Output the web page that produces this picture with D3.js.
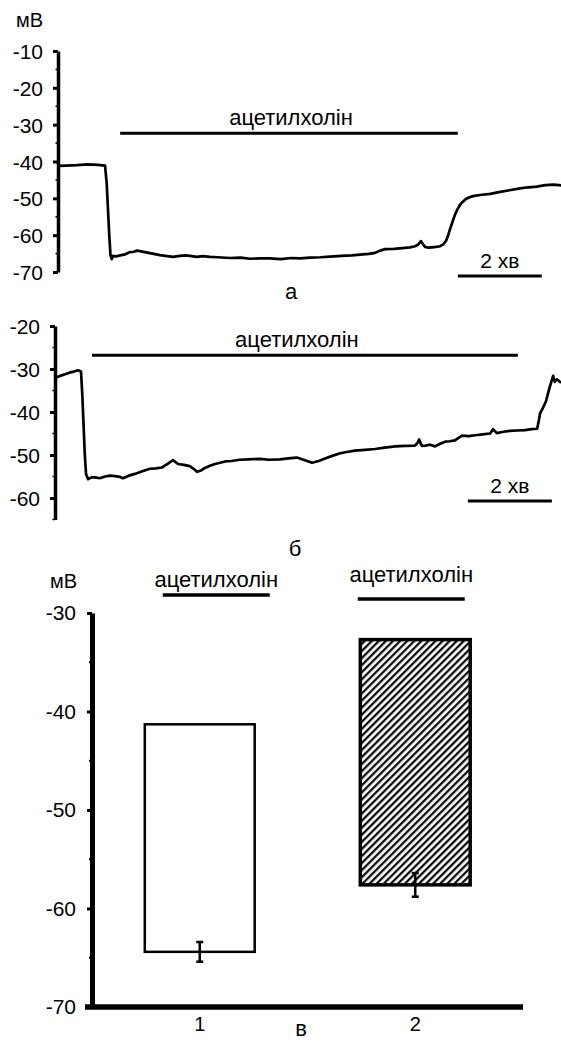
<!DOCTYPE html>
<html>
<head>
<meta charset="utf-8">
<script src="https://cdn.jsdelivr.net/npm/d3@7"></script>
<style>
  html, body { margin: 0; padding: 0; background: #fff; }
  svg { display: block; font-family: "Liberation Sans", Arial, sans-serif; }
</style>
</head>
<body>
<svg id="chart" width="561" height="1041"></svg>
<script>
// ---------------- DATA ----------------
// Panel а: membrane potential trace (time in minutes, potential in mV)
const traceATime = [0, 0.2, 0.45, 0.7, 0.95, 1.12, 1.16, 1.19, 1.22, 1.25, 1.28, 1.31, 1.38, 1.48, 1.6, 1.71, 1.8, 1.88, 1.98, 2.07, 2.25, 2.43, 2.6, 2.74, 2.9, 3.05, 3.14, 3.3, 3.45, 3.62, 3.8, 4.1, 4.35, 4.57, 4.8, 5.05, 5.3, 5.55, 5.76, 6.0, 6.25, 6.48, 6.75, 7.0, 7.19, 7.4, 7.55, 7.67, 7.79, 8.0, 8.2, 8.38, 8.5, 8.57, 8.64, 8.69, 8.74, 8.82, 8.9, 9.0, 9.1, 9.18, 9.24, 9.29, 9.33, 9.39, 9.45, 9.51, 9.57, 9.64, 9.71, 9.8, 9.88, 10.05, 10.29, 10.5, 10.75, 11.0, 11.2, 11.4, 11.6, 11.8, 12.0];
const traceAValue = [-41.2, -41.1, -41.0, -40.8, -40.9, -41.1, -46, -53, -60, -65.5, -66.5, -65.6, -65.8, -65.5, -65.2, -64.6, -64.5, -64.2, -64.4, -64.6, -65.0, -65.4, -65.7, -65.9, -65.6, -65.5, -65.6, -65.9, -65.7, -65.9, -66.0, -66.2, -66.1, -66.4, -66.3, -66.3, -66.5, -66.2, -66.3, -66.1, -66.0, -65.8, -65.6, -65.5, -65.3, -65.1, -64.8, -64.2, -63.8, -63.7, -63.5, -63.3, -63.0, -62.6, -61.6, -62.5, -63.2, -63.4, -63.3, -63.2, -63.0, -62.4, -61.5, -60.0, -58.5, -56.5, -54.5, -53.0, -51.8, -50.9, -50.2, -49.7, -49.4, -49.1, -48.8, -48.3, -47.8, -47.3, -47.0, -46.8, -46.4, -46.3, -46.5];

// Panel б: membrane potential trace
const traceBTime = [0, 0.12, 0.24, 0.36, 0.45, 0.55, 0.62, 0.65, 0.68, 0.71, 0.74, 0.79, 0.87, 0.95, 1.07, 1.19, 1.31, 1.43, 1.55, 1.62, 1.76, 1.9, 2.08, 2.26, 2.4, 2.55, 2.69, 2.81, 2.93, 3.07, 3.21, 3.3, 3.38, 3.48, 3.57, 3.69, 3.81, 4.05, 4.2, 4.4, 4.6, 4.88, 5.1, 5.36, 5.55, 5.76, 5.95, 6.12, 6.28, 6.43, 6.6, 6.79, 6.95, 7.14, 7.38, 7.62, 7.85, 8.1, 8.33, 8.57, 8.63, 8.67, 8.71, 8.74, 8.83, 8.93, 9.05, 9.17, 9.29, 9.4, 9.52, 9.69, 9.85, 10.0, 10.18, 10.36, 10.43, 10.52, 10.68, 10.83, 11.0, 11.19, 11.35, 11.48, 11.52, 11.55, 11.62, 11.69, 11.77, 11.86, 11.9, 11.95, 12.05];
const traceBValue = [-32.1, -31.6, -31.2, -30.8, -30.6, -30.3, -30.6, -36, -43, -50, -54.5, -55.6, -55.2, -55.2, -55.4, -55.0, -54.8, -54.9, -55.1, -55.4, -54.8, -54.4, -53.8, -53.2, -53.1, -52.9, -52.0, -51.2, -52.1, -52.3, -52.6, -53.2, -53.9, -53.6, -53.0, -52.5, -52.1, -51.5, -51.4, -51.1, -51.0, -50.9, -51.1, -51.0, -50.8, -50.6, -51.2, -51.8, -51.4, -50.8, -50.2, -49.6, -49.3, -49.0, -48.8, -48.6, -48.3, -48.0, -47.9, -47.8, -47.2, -46.4, -47.4, -47.9, -47.8, -47.6, -48.0, -47.4, -46.9, -46.8, -46.6, -45.5, -45.6, -45.4, -45.2, -45.0, -44.0, -44.9, -44.6, -44.4, -44.3, -44.2, -44.0, -43.9, -42.0, -40.3, -39.0, -37.5, -34.5, -31.6, -33.0, -32.4, -33.2];

// Application intervals of acetylcholine (minutes) and the scale bars (minutes)
const achA = [1.48, 9.52];
const achB = [0.88, 11.02];
const scaleBarA = [9.52, 11.52];
const scaleBarB = [9.83, 11.83];

// Panel а / б axis ticks
const ticksA = [-10, -20, -30, -40, -50, -60, -70];
const minorA = [-15, -25, -35, -45, -55, -65];
const ticksB = [-20, -30, -40, -50, -60];
const minorB = [-25, -35, -45, -55, -65];

// Panel в: bar chart (resting potential → potential under acetylcholine)
const barCategories = ["1", "2"];
const barTop = [-41.3, -32.7];
const barBottom = [-64.4, -57.6];
const barErr = [1.0, 1.2];
const ticksC = [-30, -40, -50, -60, -70];
const minorC = [-35, -45, -55, -65];

const achLabel = "ацетилхолін";
const timeLabel = "2 хв";
const unitLabel = "мВ";

// ---------------- DRAW ----------------
const svg = d3.select("#chart");
svg.append("rect").attr("width", 561).attr("height", 1041).attr("fill", "#fff");
const fmt = d => String(d);   // plain hyphen-minus, as in the reference

function styleAxis(g, domainWidth, tickWidth, fontSize) {
  g.select(".domain").attr("stroke", "#000").attr("stroke-width", domainWidth);
  g.selectAll(".tick line").attr("stroke", "#000").attr("stroke-width", tickWidth);
  g.selectAll(".tick text").attr("fill", "#000")
    .style("font-size", fontSize + "px")
    .style("font-family", '"Liberation Sans", Arial, sans-serif');
}

function tracePanel(opts) {
  const g = svg.append("g");
  const x = opts.x, y = opts.y;
  // y axis
  const ax = g.append("g").attr("transform", `translate(${x.range()[0]},0)`)
    .call(d3.axisLeft(y).tickValues(opts.ticks).tickSize(5).tickSizeOuter(0).tickPadding(10).tickFormat(fmt));
  styleAxis(ax, 3.5, 3, 21);
  ax.selectAll(".tick text").attr("dy", "0.36em");
  g.append("g").selectAll("line").data(opts.minor).join("line")
    .attr("x1", x.range()[0] - 2.5).attr("x2", x.range()[0])
    .attr("y1", d => y(d)).attr("y2", d => y(d))
    .attr("stroke", "#000").attr("stroke-width", 1.5);
  // trace
  const pts = opts.t.map((t, i) => [t, opts.v[i]]);
  g.append("path").datum(pts)
    .attr("d", d3.line().x(d => x(d[0])).y(d => y(d[1])))
    .attr("fill", "none").attr("stroke", "#000").attr("stroke-width", 2.7)
    .attr("stroke-linejoin", "round");
  // acetylcholine bar
  g.append("line")
    .attr("x1", x(opts.ach[0])).attr("x2", x(opts.ach[1]))
    .attr("y1", y(opts.achLevel)).attr("y2", y(opts.achLevel))
    .attr("stroke", "#000").attr("stroke-width", 3);
  g.append("text").text(achLabel)
    .attr("x", (x(opts.ach[0]) + x(opts.ach[1])) / 2 + opts.achTextDx)
    .attr("y", y(opts.achLevel) - 8)
    .attr("text-anchor", "middle").style("font-size", "22px");
  // time scale bar
  g.append("line")
    .attr("x1", x(opts.scale[0])).attr("x2", x(opts.scale[1]))
    .attr("y1", y(opts.scaleLevel)).attr("y2", y(opts.scaleLevel))
    .attr("stroke", "#000").attr("stroke-width", 3);
  g.append("text").text(timeLabel)
    .attr("x", (x(opts.scale[0]) + x(opts.scale[1])) / 2)
    .attr("y", y(opts.scaleLevel) - 8)
    .attr("text-anchor", "middle").style("font-size", "21px");
  return g;
}

// Panel а
const xA = d3.scaleLinear().domain([0, 12]).range([58, 562]);
const yA = d3.scaleLinear().domain([-10, -70]).range([51, 272]);
tracePanel({ x: xA, y: yA, ticks: ticksA, minor: minorA, t: traceATime, v: traceAValue,
  ach: achA, achLevel: -32.3, achTextDx: 2, scale: scaleBarA, scaleLevel: -71.1 });
svg.append("text").text(unitLabel).attr("x", 43).attr("y", 27)
  .attr("text-anchor", "end").style("font-size", "20px");
svg.append("text").text("а").attr("x", 291).attr("y", 299)
  .attr("text-anchor", "middle").style("font-size", "22px");

// Panel б
const xB = d3.scaleLinear().domain([0, 12]).range([55, 559]);
const yB = d3.scaleLinear().domain([-20, -65]).range([326, 519.5]);
tracePanel({ x: xB, y: yB, ticks: ticksB, minor: minorB, t: traceBTime, v: traceBValue,
  ach: achB, achLevel: -26.8, achTextDx: -8, scale: scaleBarB, scaleLevel: -60.7 });
svg.append("text").text("б").attr("x", 295).attr("y", 556)
  .attr("text-anchor", "middle").style("font-size", "22px");

// Panel в
const gC = svg.append("g");
const xC = d3.scaleBand().domain(barCategories).range([92, 523]).paddingInner(0.49).paddingOuter(0.245);
const yC = d3.scaleLinear().domain([-30, -70]).range([613, 1007]);

const defs = svg.append("defs");
const pat = defs.append("pattern").attr("id", "hatch").attr("patternUnits", "userSpaceOnUse")
  .attr("width", 5).attr("height", 5).attr("patternTransform", "rotate(45)");
pat.append("rect").attr("width", 5).attr("height", 5).attr("fill", "#fff");
pat.append("line").attr("x1", 1.2).attr("x2", 1.2).attr("y1", 0).attr("y2", 5)
  .attr("stroke", "#000").attr("stroke-width", 2.2);

const bars = barCategories.map((c, i) => ({ c, top: barTop[i], bottom: barBottom[i], err: barErr[i], i }));
gC.selectAll("rect.bar").data(bars).join("rect").attr("class", "bar")
  .attr("x", d => xC(d.c)).attr("width", xC.bandwidth())
  .attr("y", d => yC(d.top)).attr("height", d => yC(d.bottom) - yC(d.top))
  .attr("fill", d => d.i === 0 ? "#fff" : "url(#hatch)")
  .attr("stroke", "#000").attr("stroke-width", d => d.i === 0 ? 2.5 : 3.5);

// error bars
const eb = gC.selectAll("g.err").data(bars).join("g").attr("class", "err");
eb.append("line")
  .attr("x1", d => xC(d.c) + xC.bandwidth() / 2).attr("x2", d => xC(d.c) + xC.bandwidth() / 2)
  .attr("y1", d => yC(d.bottom + d.err)).attr("y2", d => yC(d.bottom - d.err))
  .attr("stroke", "#000").attr("stroke-width", 2.5);
eb.selectAll("line.cap").data(d => [d.bottom + d.err, d.bottom - d.err].map(v => ({ v, d }))).join("line")
  .attr("class", "cap")
  .attr("x1", o => xC(o.d.c) + xC.bandwidth() / 2 - 3.5).attr("x2", o => xC(o.d.c) + xC.bandwidth() / 2 + 3.5)
  .attr("y1", o => yC(o.v)).attr("y2", o => yC(o.v))
  .attr("stroke", "#000").attr("stroke-width", 2.5);

// y axis
const axC = gC.append("g").attr("transform", `translate(${xC.range()[0]},0)`)
  .call(d3.axisLeft(yC).tickValues(ticksC).tickSize(5).tickSizeOuter(0).tickPadding(11).tickFormat(fmt));
styleAxis(axC, 5, 3, 21);
gC.append("g").selectAll("line").data(minorC).join("line")
  .attr("x1", xC.range()[0] - 3).attr("x2", xC.range()[0])
  .attr("y1", d => yC(d)).attr("y2", d => yC(d))
  .attr("stroke", "#000").attr("stroke-width", 2);

// x axis
const axX = gC.append("g").attr("transform", `translate(0,${yC.range()[1]})`)
  .call(d3.axisBottom(xC).tickSize(0).tickPadding(10));
axX.select(".domain").remove();
axX.selectAll(".tick text").attr("fill", "#000").style("font-size", "20px")
  .style("font-family", '"Liberation Sans", Arial, sans-serif');
gC.append("line").attr("x1", xC.range()[0] - 7).attr("x2", xC.range()[1])
  .attr("y1", yC.range()[1]).attr("y2", yC.range()[1])
  .attr("stroke", "#000").attr("stroke-width", 5.5);

// acetylcholine labels above bars
const achOffsets = [16.5, -4];
const achTextY = [587, 582];
const achLineY = [595, 599];
bars.forEach((d, i) => {
  const cx = xC(d.c) + xC.bandwidth() / 2 + achOffsets[i];
  gC.append("text").text(achLabel).attr("x", cx).attr("y", achTextY[i])
    .attr("text-anchor", "middle").style("font-size", "22px");
  gC.append("line").attr("x1", cx - 53.5).attr("x2", cx + 53.5)
    .attr("y1", achLineY[i]).attr("y2", achLineY[i])
    .attr("stroke", "#000").attr("stroke-width", 3.5);
});
gC.append("text").text(unitLabel).attr("x", 77).attr("y", 588)
  .attr("text-anchor", "end").style("font-size", "20px");
gC.append("text").text("в").attr("x", 301).attr("y", 1036)
  .attr("text-anchor", "middle").style("font-size", "22px");
</script>
</body>
</html>
